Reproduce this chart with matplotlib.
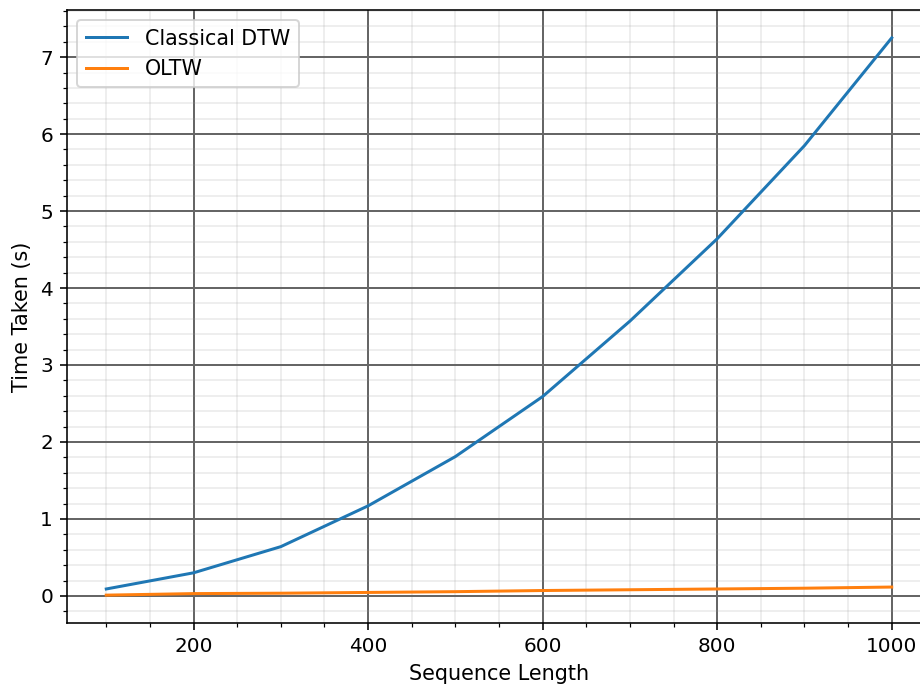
import matplotlib
matplotlib.use("Agg")
import matplotlib.pyplot as plt
from matplotlib.ticker import MultipleLocator

seq_len = [100, 200, 300, 400, 500, 600, 700, 800, 900, 1000]
classical_dtw = [0.09, 0.30, 0.64, 1.17, 1.81, 2.59, 3.57, 4.64, 5.85, 7.25]
oltw = [0.01, 0.03, 0.035, 0.045, 0.055, 0.07, 0.08, 0.09, 0.10, 0.115]

W, H, DPI = 920, 686, 144
fig = plt.figure(figsize=(W / DPI, H / DPI), dpi=DPI)
ax = fig.add_axes([67 / W, (H - 623) / H, (931 - 67) / W, (623 - 10) / H])

ax.plot(seq_len, classical_dtw, color="#1f77b4", lw=1.5, label="Classical DTW")
ax.plot(seq_len, oltw, color="#ff7f0e", lw=1.5, label="OLTW")

ax.xaxis.set_minor_locator(MultipleLocator(50))
ax.yaxis.set_minor_locator(MultipleLocator(0.2))
ax.grid(which="major", color="#666666", lw=1.0)
ax.grid(which="minor", color="#999999", lw=0.8, alpha=0.2)
ax.set_axisbelow(True)

ax.set_xlabel("Sequence Length", fontsize=10.4)
ax.set_ylabel("Time Taken (s)", fontsize=10.4, labelpad=4)
ax.legend(loc="upper left", fontsize=10.3, handletextpad=0.9)

fig.savefig("out.png", dpi=DPI)
